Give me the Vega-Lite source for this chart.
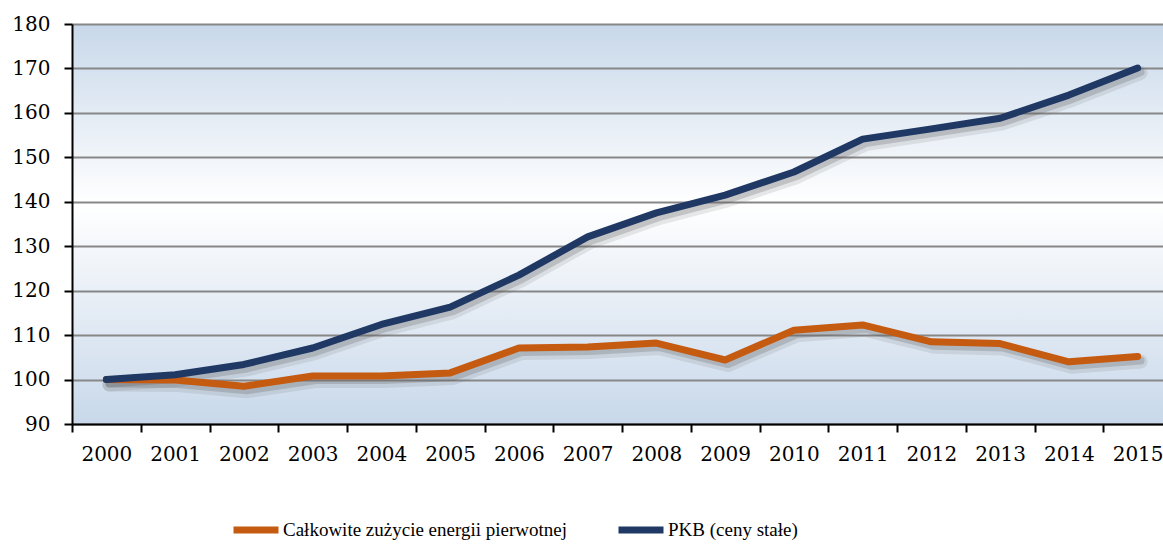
{
  "$schema": "https://vega.github.io/schema/vega-lite/v6.json",
  "width": 1100,
  "height": 400,
  "padding": {"left": 11, "top": 14, "right": 0, "bottom": 0},
  "background": "white",
  "data": {"values": [
    {"year": "2000", "series": "Całkowite zużycie energii pierwotnej", "value": 100.0},
    {"year": "2001", "series": "Całkowite zużycie energii pierwotnej", "value": 99.9},
    {"year": "2002", "series": "Całkowite zużycie energii pierwotnej", "value": 98.5},
    {"year": "2003", "series": "Całkowite zużycie energii pierwotnej", "value": 100.8},
    {"year": "2004", "series": "Całkowite zużycie energii pierwotnej", "value": 100.8},
    {"year": "2005", "series": "Całkowite zużycie energii pierwotnej", "value": 101.5},
    {"year": "2006", "series": "Całkowite zużycie energii pierwotnej", "value": 107.1},
    {"year": "2007", "series": "Całkowite zużycie energii pierwotnej", "value": 107.3},
    {"year": "2008", "series": "Całkowite zużycie energii pierwotnej", "value": 108.2},
    {"year": "2009", "series": "Całkowite zużycie energii pierwotnej", "value": 104.4},
    {"year": "2010", "series": "Całkowite zużycie energii pierwotnej", "value": 111.1},
    {"year": "2011", "series": "Całkowite zużycie energii pierwotnej", "value": 112.3},
    {"year": "2012", "series": "Całkowite zużycie energii pierwotnej", "value": 108.5},
    {"year": "2013", "series": "Całkowite zużycie energii pierwotnej", "value": 108.1},
    {"year": "2014", "series": "Całkowite zużycie energii pierwotnej", "value": 104.0},
    {"year": "2015", "series": "Całkowite zużycie energii pierwotnej", "value": 105.2},
    {"year": "2000", "series": "PKB (ceny stałe)", "value": 100.0},
    {"year": "2001", "series": "PKB (ceny stałe)", "value": 101.1},
    {"year": "2002", "series": "PKB (ceny stałe)", "value": 103.4},
    {"year": "2003", "series": "PKB (ceny stałe)", "value": 107.1},
    {"year": "2004", "series": "PKB (ceny stałe)", "value": 112.4},
    {"year": "2005", "series": "PKB (ceny stałe)", "value": 116.3},
    {"year": "2006", "series": "PKB (ceny stałe)", "value": 123.5},
    {"year": "2007", "series": "PKB (ceny stałe)", "value": 132.1},
    {"year": "2008", "series": "PKB (ceny stałe)", "value": 137.5},
    {"year": "2009", "series": "PKB (ceny stałe)", "value": 141.5},
    {"year": "2010", "series": "PKB (ceny stałe)", "value": 146.7},
    {"year": "2011", "series": "PKB (ceny stałe)", "value": 154.1},
    {"year": "2012", "series": "PKB (ceny stałe)", "value": 156.4},
    {"year": "2013", "series": "PKB (ceny stałe)", "value": 158.8},
    {"year": "2014", "series": "PKB (ceny stałe)", "value": 164.0},
    {"year": "2015", "series": "PKB (ceny stałe)", "value": 170.1}
  ]},
  "encoding": {
    "x": {
      "field": "year", "type": "ordinal", "title": null,
      "scale": {"type": "band", "paddingInner": 0, "paddingOuter": 0},
      "bandPosition": 0.5,
      "axis": {
        "tickBand": "extent", "labelAngle": 0, "domainColor": "black", "domainWidth": 2,
        "tickColor": "black", "tickWidth": 2, "tickSize": 8, "labelPadding": 12,
        "labelFont": "DejaVu Serif", "labelFontSize": 20, "labelColor": "black", "grid": false
      }
    },
    "y": {
      "field": "value", "type": "quantitative", "title": null,
      "scale": {"domain": [90, 180], "nice": false, "zero": false},
      "axis": {
        "values": [90, 100, 110, 120, 130, 140, 150, 160, 170, 180],
        "domainColor": "black", "domainWidth": 2, "tickColor": "black", "tickWidth": 2, "tickSize": 8,
        "labelPadding": 14, "labelFont": "DejaVu Serif", "labelFontSize": 20, "labelColor": "black",
        "grid": true, "gridColor": "#878787", "gridWidth": 2
      }
    }
  },
  "layer": [
    {
      "mark": {"type": "line", "color": "#6a6a6a", "opacity": 0.15, "strokeWidth": 14, "xOffset": 3, "yOffset": 5, "strokeJoin": "round", "strokeCap": "round"},
      "encoding": {"detail": {"field": "series"}}
    },
    {
      "mark": {"type": "line", "color": "#5a5a5a", "opacity": 0.25, "strokeWidth": 8, "xOffset": 3, "yOffset": 4, "strokeJoin": "round", "strokeCap": "round"},
      "encoding": {"detail": {"field": "series"}}
    },
    {
      "mark": {"type": "line", "strokeWidth": 7, "strokeJoin": "round", "strokeCap": "round"},
      "encoding": {
        "color": {
          "field": "series", "type": "nominal", "title": null,
          "scale": {"domain": ["Całkowite zużycie energii pierwotnej", "PKB (ceny stałe)"], "range": ["#c55a11", "#1f3864"]},
          "legend": {
            "orient": "none", "direction": "horizontal", "legendX": 158, "legendY": 480,
            "symbolType": "stroke", "symbolSize": 2025, "symbolStrokeWidth": 7,
            "labelFont": "Liberation Serif", "labelFontSize": 19, "labelColor": "black",
            "labelOffset": 1, "columnPadding": 36, "labelLimit": 500
          }
        }
      }
    }
  ],
  "config": {
    "view": {
      "stroke": null,
      "fill": {
        "gradient": "linear", "x1": 0, "y1": 0, "x2": 0, "y2": 1,
        "stops": [
          {"offset": 0, "color": "#c8d8ea"},
          {"offset": 0.45, "color": "#ffffff"},
          {"offset": 1, "color": "#c8d8ea"}
        ]
      }
    }
  }
}
